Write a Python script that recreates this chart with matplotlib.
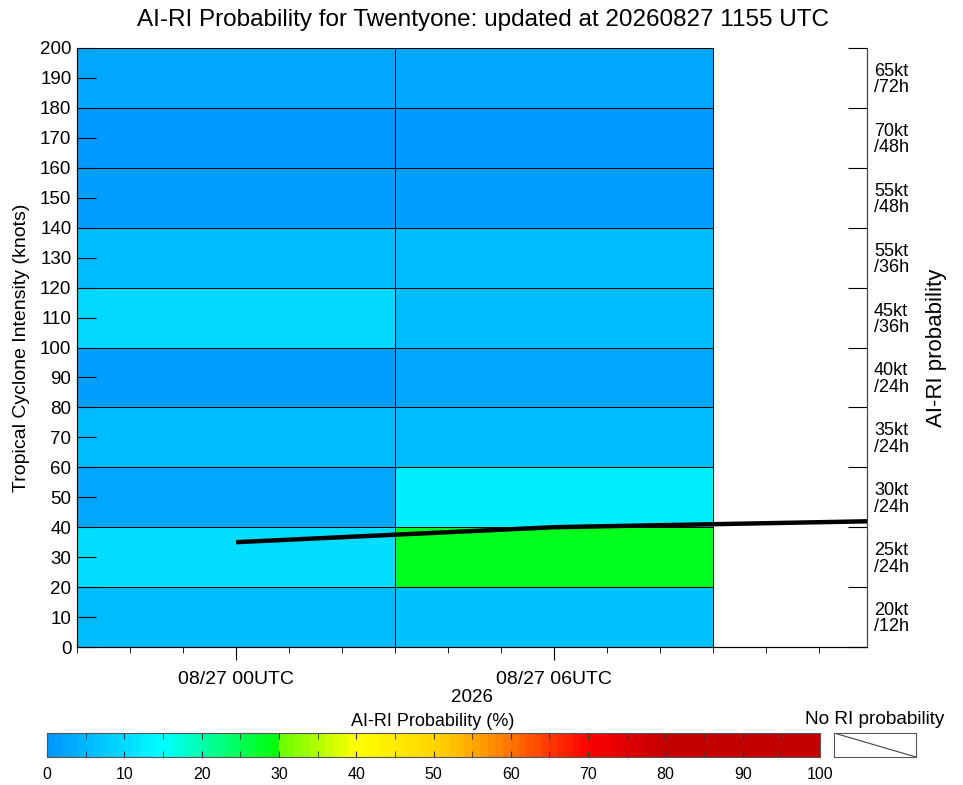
import numpy as np
import matplotlib.pyplot as plt
from matplotlib.colors import LinearSegmentedColormap, ListedColormap, BoundaryNorm

plt.rcParams['font.family'] = ['Liberation Sans', 'DejaVu Sans']

# forecast hours relative to 08/27 00UTC
cell_edges_h = [-3, 3, 9]
intensity_edges = list(range(0, 201, 20))

# AI-RI probability (%) per 20-kt bin, bottom to top
prob_00utc = [5, 10, 2, 5, 1, 9, 5, 1, 0, 2]
prob_06utc = [6, 28, 12, 5, 2, 5, 5, 1, 0, 2]

# intensity track
track_h = [0, 6, 12]
track_kt = [35, 40, 42]

# right-axis labels (RI thresholds), bottom to top
ri_labels = ['20kt\n/12h', '25kt\n/24h', '30kt\n/24h', '35kt\n/24h', '40kt\n/24h',
             '45kt\n/36h', '55kt\n/36h', '55kt\n/48h', '70kt\n/48h', '65kt\n/72h']

xtick_h = [0, 6]
xtick_labels = ['08/27 00UTC', '08/27 06UTC']

# colour table
anchors = [(0, (0, 150, 255)), (15, (0, 255, 255)), (30, (0, 255, 0)),
           (30.5, (110, 255, 0)), (40, (255, 255, 0)), (50, (255, 215, 0)),
           (55, (255, 170, 0)), (60, (255, 115, 0)), (70, (255, 0, 0)),
           (80, (195, 0, 0)), (100, (195, 0, 0))]
base = LinearSegmentedColormap.from_list(
    'airi', [(v / 100, tuple(c / 255 for c in rgb)) for v, rgb in anchors])
cmap = ListedColormap(base((np.arange(100) + 0.5) / 100))
norm = BoundaryNorm(np.arange(0, 101, 1), cmap.N)

fig = plt.figure(figsize=(9.63, 7.85), dpi=100)
ax = fig.add_axes([77 / 963, 1 - 647 / 785, 790 / 963, 599 / 785])

C = np.array([prob_00utc, prob_06utc]).T
ax.pcolormesh(cell_edges_h, intensity_edges, C, cmap=cmap, norm=norm,
              edgecolors='black', linewidth=0.5)
ax.plot(track_h, track_kt, color='black', linewidth=3.2, solid_capstyle='butt')

ax.set_xlim(-3, 11.9)
ax.set_ylim(0, 200)
ax.spines['top'].set_visible(False)
for s in ['left', 'bottom', 'right']:
    ax.spines[s].set_color('#444444')

ax.set_yticks(range(0, 201, 10))
ax.tick_params(axis='y', direction='in', length=14, labelsize=13.5, pad=4)
ax.set_xticks(xtick_h)
ax.set_xticklabels(xtick_labels)
ax.set_xticks(np.arange(-3, 12, 1), minor=True)
ax.tick_params(axis='x', which='major', direction='out', length=9, labelsize=14, pad=8)
ax.tick_params(axis='x', which='minor', direction='out', length=4)
ax.set_ylabel('Tropical Cyclone Intensity (knots)', fontsize=14, labelpad=7)
fig.text(472 / 963, 1 - 698 / 785, '2026', ha='center', va='center', fontsize=13.5)

ax2 = ax.twinx()
ax2.set_ylim(0, 200)
ax2.spines['top'].set_visible(False)
ax2.spines['right'].set_color('#444444')
ax2.set_yticks(intensity_edges)
ax2.set_yticklabels([])
ax2.set_yticks(range(10, 200, 20), minor=True)
ax2.set_yticklabels(ri_labels, minor=True, fontsize=13, linespacing=0.95)
ax2.tick_params(axis='y', which='major', direction='in', length=14)
ax2.tick_params(axis='y', which='minor', length=0, pad=5)
ax2.set_ylabel('AI-RI probability', fontsize=16, labelpad=12)

fig.text(0.502, 0.974, 'AI-RI Probability for Twentyone: updated at 20260827 1155 UTC',
         ha='center', va='center', fontsize=17.5)

cax = fig.add_axes([47 / 963, 1 - 757 / 785, 773 / 963, 24 / 785])
cb = fig.colorbar(plt.cm.ScalarMappable(norm=norm, cmap=cmap), cax=cax,
                  orientation='horizontal', ticks=range(0, 101, 10))
cb.outline.set_edgecolor('#555555')
cb.ax.set_xticks(range(0, 101, 5), minor=True)
cb.ax.tick_params(which='both', direction='in', length=4, top=True, bottom=True,
                  labelsize=11.5, pad=7, color='#333333')
fig.text(433 / 963, 1 - 721 / 785, 'AI-RI Probability (%)', ha='center', va='center',
         fontsize=13)

nax = fig.add_axes([834 / 963, 1 - 757 / 785, 82 / 963, 24 / 785])
nax.set_xlim(0, 1)
nax.set_ylim(0, 1)
nax.plot([0, 1], [1, 0], color='#444444', linewidth=0.8)
nax.set_xticks([])
nax.set_yticks([])
for s in nax.spines.values():
    s.set_color('#555555')
fig.text(875 / 963, 1 - 720 / 785, 'No RI probability', ha='center', va='center',
         fontsize=13.7)

fig.savefig('out.png', dpi=100)
